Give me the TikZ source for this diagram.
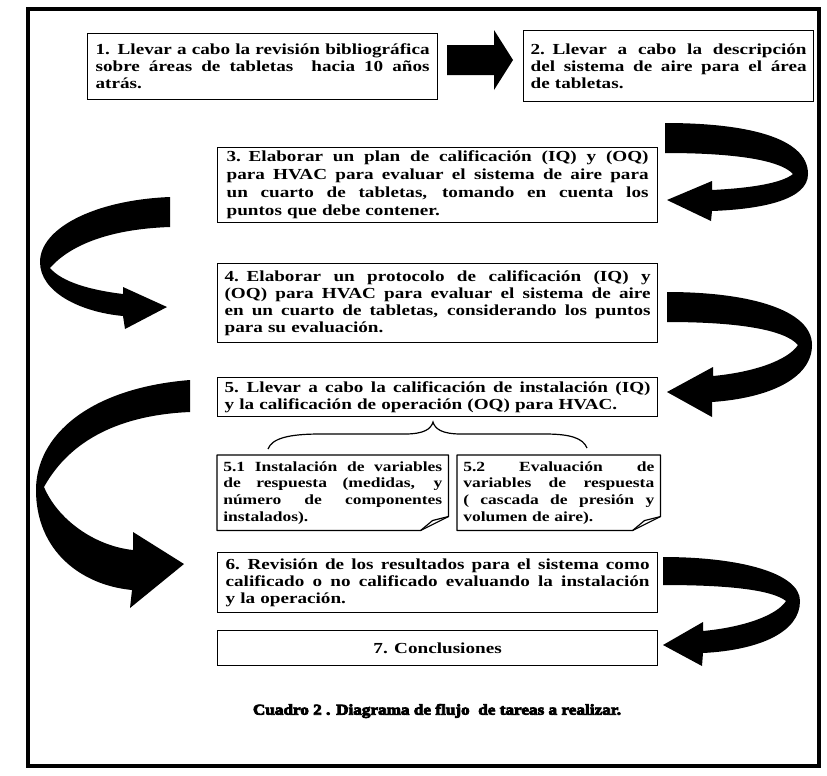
\documentclass[tikz,border=0pt]{standalone}
\usepackage{fontspec}
\setmainfont{Liberation Serif}[FakeStretch=1.25]
\newfontfamily\capfont{Liberation Serif}[FakeStretch=1.14,FakeBold=5]
\usetikzlibrary{calc}
\newcommand\jl[1]{\makebox[\linewidth][s]{\spaceskip=\fontdimen2\font plus 1fil\relax #1}\\}
\begin{document}
\begin{tikzpicture}[x=0.75pt,y=-0.75pt,
  box/.style={draw, line width=0.9pt, inner sep=0pt, align=left, anchor=north west,
    font=\bfseries\fontsize{11.5}{12.75}\selectfont},
  note/.style={inner sep=0pt, align=left, anchor=north west,
    font=\bfseries\fontsize{10.5}{12.5}\selectfont},
  notefold/.style={line width=0.9pt, line join=round},
  blk/.style={fill=black},
  framebox/.style={line width=3pt},
  bracestyle/.style={line width=0.9pt}]
\useasboundingbox (0,0) rectangle (827,775);
\draw[framebox] (28,9) rectangle (819,766);

% boxes
\node[box, minimum width=262.5pt, minimum height=49.5pt, text width=250.5pt] (b1) at (87,33)
 {\jl{1. Llevar a cabo la revisión bibliográfica}\jl{sobre áreas de tabletas\ \ hacia 10 años}atrás.};
\node[box, minimum width=217.5pt, minimum height=53.25pt, text width=207pt] (b2) at (523,30)
 {\jl{2. Llevar a cabo la descripción}\jl{del sistema de aire para el área}de tabletas.};
\node[box, minimum width=330pt, minimum height=56.25pt, text width=316.5pt,
  font=\bfseries\fontsize{11.5}{13.5}\selectfont] (b3) at (217,147)
 {\jl{3. Elaborar un plan de calificación (IQ) y (OQ)}\jl{para HVAC para evaluar el sistema de aire para}\jl{un cuarto de tabletas, tomando en cuenta los}puntos que debe contener.};
\node[box, minimum width=330pt, minimum height=59.25pt, text width=319.5pt] (b4) at (217,263)
 {\jl{4. Elaborar un protocolo de calificación (IQ) y}\jl{(OQ) para HVAC para evaluar el sistema de aire}\jl{en un cuarto de tabletas, considerando los puntos}para su evaluación.};
\node[box, minimum width=330pt, minimum height=29.25pt, text width=319.5pt] (b5) at (217,377)
 {\jl{5. Llevar a cabo la calificación de instalación (IQ)}y la calificación de operación (OQ) para HVAC.};
\node[note, minimum width=173.25pt, minimum height=56.25pt, text width=164.25pt] (b51) at (217,455)
 {\jl{5.1 Instalación de variables}\jl{de respuesta (medidas, y}\jl{número de componentes}instalados).};
\node[note, minimum width=152.25pt, minimum height=56.25pt, text width=143.25pt] (b52) at (457,455)
 {\jl{5.2 Evaluación de}\jl{variables de respuesta}\jl{( cascada de presión y}volumen de aire).};
\node[box, minimum width=330pt, minimum height=45pt, text width=318pt] (b6) at (217,552)
 {\jl{6. Revisión de los resultados para el sistema como}\jl{calificado o no calificado evaluando la instalación}y la operación.};
\node[box, minimum width=330pt, minimum height=26.25pt, align=center] (b7) at (217,630)
 {7. Conclusiones};
\node[inner sep=0pt, font=\capfont\bfseries\fontsize{11.3}{13}\selectfont] (cap) at (437,711)
 {Cuadro 2 . Diagrama de flujo\ \ de tareas a realizar.};

% folded-corner outlines
\foreach \n in {b51,b52}{
  \draw[notefold] (\n.north west) -- (\n.north east) -- ($(\n.south east)+(0,-14)$)
    -- ($(\n.south east)+(-28,0)$) -- (\n.south west) -- cycle;
  \draw[notefold] ($(\n.south east)+(-28,0)$) -- ($(\n.south east)+(-16,-10)$) -- ($(\n.south east)+(0,-14)$);
}

% brace
\draw[bracestyle] (268,449) .. controls (272,438) and (290,434) .. (320,434) -- (405,434)
  .. controls (424,434) and (431,429) .. (433,422)
  .. controls (435,429) and (442,434) .. (461,434) -- (545,434)
  .. controls (570,434) and (583,438) .. (587,448);

% straight block arrow 1 -> 2
\fill[blk] (447,45) -- (494,45) -- (494,30) -- (513,60) -- (494,90) -- (494,75) -- (447,75) -- cycle;

% curved arrow 2 -> 3
\fill[blk] (665,123) .. controls (745,123) and (808,137) .. (808,174)
 .. controls (808,199) and (765,209) .. (712,211)
 -- (711,221) -- (667,200) -- (712,181) -- (712,190)
 .. controls (752,188) and (782,183) .. (793,174)
 .. controls (780,160) and (735,153) .. (665,153) -- cycle;

% curved arrow 3 -> 4
\fill[blk] (170,197) .. controls (95,200) and (40,228) .. (40,262)
 .. controls (40,292) and (80,312) .. (123,316)
 -- (125,329) -- (167,307) -- (123,287) -- (123,294)
 .. controls (90,290) and (62,282) .. (50,268)
 .. controls (70,245) and (110,229) .. (170,227) -- cycle;

% curved arrow 4 -> 5
\fill[blk] (667,292) .. controls (750,292) and (812,310) .. (812,345)
 .. controls (812,378) and (770,398) .. (712,402)
 -- (712,417) -- (667,392) -- (713,367) -- (713,376)
 .. controls (755,372) and (788,360) .. (798,345)
 .. controls (785,330) and (740,322) .. (667,322) -- cycle;

% curved arrow 5 -> 6
\fill[blk] (190,380) .. controls (90,388) and (36,435) .. (36,490)
 .. controls (36,550) and (80,585) .. (132,590)
 -- (130,608) -- (184,564) -- (133,532) -- (133,550)
 .. controls (95,546) and (58,520) .. (44,487)
 .. controls (70,440) and (120,415) .. (190,412) -- cycle;

% curved arrow 6 -> 7
\fill[blk] (663,557) .. controls (740,557) and (800,573) .. (800,601)
 .. controls (800,632) and (760,650) .. (703,653)
 -- (702,666) -- (663,645) -- (703,622) -- (703,631)
 .. controls (745,627) and (777,615) .. (786,601)
 .. controls (772,590) and (730,585) .. (663,585) -- cycle;
\end{tikzpicture}
\end{document}
